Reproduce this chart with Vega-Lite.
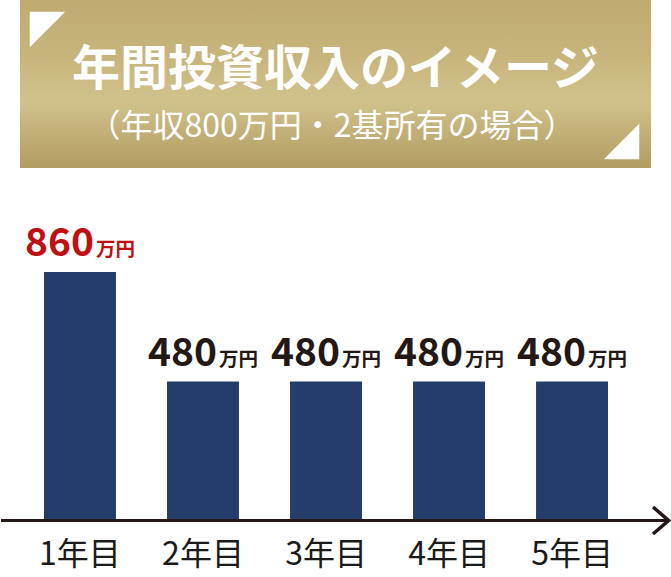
{
  "$schema": "https://vega.github.io/schema/vega-lite/v6.json",
  "width": 671,
  "height": 577,
  "autosize": {"type": "none"},
  "padding": 0,
  "background": "white",
  "config": {"view": {"stroke": null}, "font": "Noto Sans CJK JP"},
  "layer": [
    {
      "data": {"values": [
        {"year": "1年目", "value": 860},
        {"year": "2年目", "value": 480},
        {"year": "3年目", "value": 480},
        {"year": "4年目", "value": 480},
        {"year": "5年目", "value": 480}
      ]},
      "encoding": {
        "x": {"field": "year", "type": "nominal", "sort": null,
          "scale": {"range": [44, 608], "paddingInner": 0.415, "paddingOuter": 0},
          "axis": {"orient": "bottom", "offset": -57, "domain": false, "ticks": false, "title": null,
            "labelAngle": 0, "labelFontSize": 32, "labelFont": "Noto Sans CJK JP", "labelColor": "#1a1a1a",
            "labelPadding": 19, "grid": false}},
        "y": {"field": "value", "type": "quantitative",
          "scale": {"domain": [0, 1803], "range": [520, 0], "nice": false}, "axis": null}
      },
      "layer": [
        {"mark": {"type": "bar", "color": "#243d6b"}},
        {"mark": {"type": "text", "align": "right", "baseline": "alphabetic", "dy": -16, "xOffset": 14,
            "fontSize": 39, "fontWeight": "bold", "font": "Noto Sans CJK JP"},
         "encoding": {"text": {"field": "value"},
           "color": {"condition": {"test": "datum.value > 500", "value": "#c00f12"}, "value": "#231815"}}},
        {"mark": {"type": "text", "align": "left", "baseline": "alphabetic", "dy": -16, "xOffset": 16,
            "fontSize": 19.5, "fontWeight": "bold", "font": "Noto Sans CJK JP", "text": "万円"},
         "encoding": {
           "color": {"condition": {"test": "datum.value > 500", "value": "#c00f12"}, "value": "#231815"}}}
      ]
    },
    {
      "encoding": {
        "x": {"field": "x", "type": "quantitative", "scale": {"domain": [0, 671], "nice": false, "zero": false}, "axis": null},
        "y": {"field": "y", "type": "quantitative", "scale": {"domain": [0, 577], "nice": false, "reverse": true}, "axis": null}
      },
      "layer": [
        {"data": {"values": [{"x": 20, "x2": 651, "y": 0, "y2": 168}]},
         "mark": {"type": "rect", "color": {"gradient": "linear", "x1": 0, "y1": 0, "x2": 0, "y2": 1,
           "stops": [
             {"offset": 0, "color": "#bfab70"},
             {"offset": 0.35, "color": "#c7b57c"},
             {"offset": 0.6, "color": "#d1c28c"},
             {"offset": 0.78, "color": "#c3b079"},
             {"offset": 1, "color": "#b29e62"}
           ]}},
         "encoding": {"x2": {"field": "x2"}, "y2": {"field": "y2"}}},
        {"data": {"values": [{"x": 47.5, "y": 29.5, "corner": "tl"}, {"x": 621.5, "y": 141.5, "corner": "br"}]},
         "mark": {"type": "point", "filled": true, "color": "white", "opacity": 1, "strokeWidth": 0, "size": 1260},
         "encoding": {"shape": {"field": "corner", "type": "nominal",
           "scale": {"domain": ["tl", "br"], "range": ["M -1 -1 L 1 -1 L -1 1 Z", "M 1 -1 L 1 1 L -1 1 Z"]}, "legend": null}}},
        {"data": {"values": [{"x": 335.5, "y": 85, "label": "年間投資収入のイメージ"}]},
         "mark": {"type": "text", "align": "center", "baseline": "alphabetic", "fontSize": 48, "fontWeight": "bold", "color": "white", "font": "Noto Sans CJK JP"},
         "encoding": {"text": {"field": "label"}}},
        {"data": {"values": [{"x": 332, "y": 137, "label": "（年収800万円・2基所有の場合）"}]},
         "mark": {"type": "text", "align": "center", "baseline": "alphabetic", "fontSize": 32, "color": "white", "font": "Noto Sans CJK JP"},
         "encoding": {"text": {"field": "label"}}},
        {"data": {"values": [{"x": 1, "x2": 668, "y": 520.5}]},
         "mark": {"type": "rule", "color": "#231815", "strokeWidth": 3},
         "encoding": {"x2": {"field": "x2"}}},
        {"data": {"values": [{"x": 653, "y": 507, "o": 1}, {"x": 668.5, "y": 520.5, "o": 2}, {"x": 653, "y": 534, "o": 3}]},
         "mark": {"type": "line", "color": "#231815", "strokeWidth": 3.5},
         "encoding": {"order": {"field": "o"}}}
      ]
    }
  ],
  "resolve": {"scale": {"x": "independent", "y": "independent"}, "axis": {"x": "independent", "y": "independent"}}
}
